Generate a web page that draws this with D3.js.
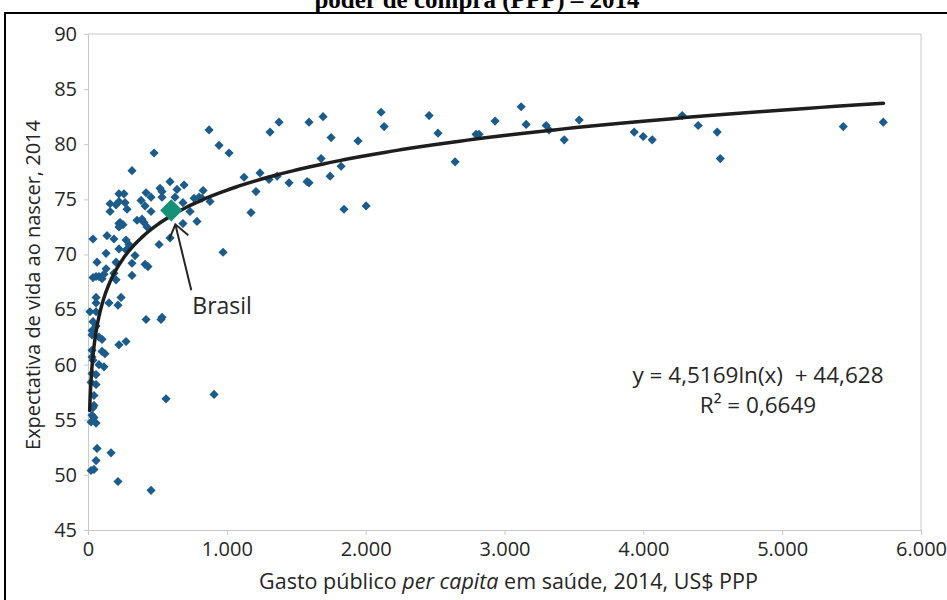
<html>
<head>
<script src='https://d3js.org/d3.v7.min.js'></script>
<style>
  body { margin: 0; background: white; }
  svg text { font-family: 'Open Sans', sans-serif; fill: #262626; }
</style>
</head>
<body>
<svg width=947 height=600></svg>
<script>
// gasto publico per capita em saude (US$ PPP) e expectativa de vida, 2014
var gasto = [36, 65, 58, 79, 101, 36, 58, 58, 14, 58, 36, 58, 29, 29, 79, 101, 29, 101, 122, 29,
  36, 79, 115, 29, 58, 22, 58, 43, 43, 36, 29, 43, 58, 22, 65, 166, 58, 22, 43, 216,
  454, 562, 908, 130, 115, 209, 317, 411, 432, 317, 187, 202, 238, 216, 151, 418, 533, 526, 223, 274,
  476, 317, 591, 519, 533, 692, 641, 418, 454, 223, 259, 533, 627, 684, 382, 159, 202, 223, 267, 411,
  281, 159, 454, 735, 353, 389, 403, 425, 231, 223, 252, 223, 684, 591, 512, 137, 187, 274, 295, 223,
  274, 130, 339, 202, 764, 800, 829, 821, 879, 785, 872, 944, 1016, 1311, 1376, 1124, 1239, 1210, 1174, 1304,
  1362, 1448, 973, 1592, 1693, 1751, 1679, 1823, 1744, 1578, 1592, 1844, 2003, 1945, 2111, 2133, 2457, 2521, 2644, 2795,
  2817, 2932, 3120, 3156, 3300, 3321, 3430, 3538, 3934, 3999, 4064, 4280, 4395, 4532, 4554, 5440, 5728];
var expectativa = [71.4, 69.3, 68.0, 68.0, 67.8, 67.9, 66.1, 65.6, 64.8, 64.8, 63.9, 63.5, 63.1, 62.7, 62.5, 62.3, 61.3, 61.2, 61.0, 60.7,
  60.4, 60.0, 59.8, 59.2, 59.1, 58.4, 58.2, 57.2, 56.3, 56.1, 55.4, 55.2, 54.7, 54.8, 52.4, 52.0, 51.3, 50.4, 50.5, 49.4,
  48.6, 56.9, 57.3, 68.7, 68.2, 69.2, 69.2, 69.1, 68.9, 68.1, 68.3, 67.7, 66.1, 65.4, 65.6, 64.1, 64.3, 64.1, 61.8, 62.1,
  79.2, 77.6, 76.6, 76.0, 75.7, 76.3, 75.9, 75.6, 75.2, 75.5, 75.5, 75.2, 75.2, 74.7, 74.9, 74.6, 74.5, 74.8, 74.7, 74.4,
  74.1, 73.9, 73.9, 73.9, 73.1, 73.2, 72.9, 72.5, 72.9, 72.8, 72.7, 72.5, 72.8, 71.5, 70.9, 71.7, 71.4, 71.3, 70.9, 70.5,
  70.4, 70.1, 69.9, 69.3, 75.1, 75.2, 75.8, 75.1, 74.8, 73.0, 81.3, 79.9, 79.2, 81.1, 82.0, 77.0, 77.4, 75.7, 73.8, 76.8,
  77.1, 76.5, 70.2, 82.0, 82.5, 80.6, 78.7, 78.0, 77.1, 76.6, 76.5, 74.1, 74.4, 80.3, 82.9, 81.6, 82.6, 81.0, 78.4, 80.9,
  80.9, 82.1, 83.4, 81.8, 81.7, 81.3, 80.4, 82.2, 81.1, 80.7, 80.4, 82.6, 81.7, 81.1, 78.7, 81.6, 82.0];

var brasil = {nome: "Brasil", gasto: 600, expectativa: 74.0};
// linha de tendencia logaritmica: y = a ln(x) + b
var tendencia = {a: 4.5169, b: 44.628, xMin: 12, xMax: 5730};
var equacao = "y = 4,5169ln(x)  + 44,628";
var r2 = "R² = 0,6649";

var xTicks = [0, 1000, 2000, 3000, 4000, 5000, 6000];
var yTicks = [45, 50, 55, 60, 65, 70, 75, 80, 85, 90];
var titulo = "poder de compra (PPP) – 2014";
var xTitulo = ["Gasto público ", "per capita", " em saúde, 2014, US$ PPP"];
var yTitulo = "Expectativa de vida ao nascer, 2014";

var svg = d3.select("svg");
var pt = d3.formatLocale({decimal: ",", thousands: ".", grouping: [3], currency: ["US$", ""]});

var x = d3.scaleLinear().domain([0, 6000]).range([88, 921]);
var y = d3.scaleLinear().domain([45, 90]).range([530, 34]);

// titulo (cortado no topo, como no original) e moldura
svg.append("text")
  .attr("x", 477).attr("y", 8)
  .attr("text-anchor", "middle")
  .style("font-family", "'Liberation Serif', serif")
  .style("font-weight", "bold")
  .style("font-size", "25px")
  .style("fill", "black")
  .text(titulo);

svg.append("rect")
  .attr("x", 5).attr("y", 13)
  .attr("width", 980).attr("height", 640)
  .attr("fill", "none")
  .attr("stroke", "black")
  .attr("stroke-width", 2);

// borda da area do grafico
svg.append("line")
  .attr("x1", x(0)).attr("x2", x(6000))
  .attr("y1", y(90)).attr("y2", y(90))
  .attr("stroke", "#c8c8c8");
svg.append("line")
  .attr("x1", x(6000)).attr("x2", x(6000))
  .attr("y1", y(90)).attr("y2", y(45))
  .attr("stroke", "#c8c8c8");

var gy = svg.append("g")
  .attr("transform", "translate(" + x(0) + ",0)")
  .call(d3.axisLeft(y).tickValues(yTicks).tickSize(4).tickPadding(7));
var gx = svg.append("g")
  .attr("transform", "translate(0," + y(45) + ")")
  .call(d3.axisBottom(x).tickValues(xTicks).tickSize(5).tickPadding(7).tickFormat(pt.format(",d")));

[gx, gy].forEach(function(g) {
  g.select(".domain").attr("stroke", "#c8c8c8");
  g.selectAll(".tick line").attr("stroke", "#c8c8c8");
  g.selectAll(".tick text")
    .style("font-family", "'Open Sans', sans-serif")
    .style("font-size", "20px")
    .attr("fill", "#262626");
});

// pontos
var pontos = gasto.map(function(g, i) { return {gasto: g, expectativa: expectativa[i]}; });
var diamante = d3.symbol().type(d3.symbolSquare).size(42);

svg.append("g").selectAll("path")
  .data(pontos)
  .enter()
  .append("path")
  .attr("d", diamante)
  .attr("transform", function(d) {
    return "translate(" + x(d.gasto) + "," + y(d.expectativa) + ") rotate(45)";
  })
  .attr("fill", "#1b5c8c");

// curva de tendencia
var n = 300;
var curva = d3.range(n + 1).map(function(i) {
  var gx = tendencia.xMin * Math.pow(tendencia.xMax / tendencia.xMin, i / n);
  return [gx, tendencia.a * Math.log(gx) + tendencia.b];
});
svg.append("path")
  .datum(curva)
  .attr("d", d3.line().x(function(d) { return x(d[0]); }).y(function(d) { return y(d[1]); }))
  .attr("fill", "none")
  .attr("stroke", "#1e1e1e")
  .attr("stroke-width", 3.5)
  .attr("stroke-linecap", "round");

// Brasil
var bx = x(brasil.gasto), by = y(brasil.expectativa);
svg.append("path")
  .attr("d", d3.symbol().type(d3.symbolSquare).size(250))
  .attr("transform", "translate(" + bx + "," + by + ") rotate(45)")
  .attr("fill", "#15917a");

var tip = [bx + 4, by + 14], tail = [bx + 20, by + 80];
svg.append("path")
  .attr("d", "M" + tail + "L" + tip + "M" + [tip[0] - 6, tip[1] + 15] + "L" + tip + "L" + [tip[0] + 13, tip[1] + 11])
  .attr("fill", "none")
  .attr("stroke", "#262626")
  .attr("stroke-width", 2);

svg.append("text")
  .attr("x", bx + 21).attr("y", by + 104)
  .style("font-size", "23px")
  .text(brasil.nome);

// equacao
svg.append("text")
  .attr("x", 758).attr("y", 383)
  .attr("text-anchor", "middle")
  .style("font-size", "22.5px")
  .attr("xml:space", "preserve")
  .text(equacao);
svg.append("text")
  .attr("x", 758).attr("y", 413)
  .attr("text-anchor", "middle")
  .style("font-size", "22.5px")
  .text(r2);

// titulos dos eixos
var xt = svg.append("text")
  .attr("x", (x(0) + x(6000)) / 2 + 4).attr("y", 589)
  .attr("text-anchor", "middle")
  .style("font-size", "21.5px");
xTitulo.forEach(function(parte, i) {
  xt.append("tspan")
    .style("font-style", i == 1 ? "italic" : "normal")
    .attr("xml:space", "preserve")
    .text(parte);
});

svg.append("text")
  .attr("transform", "translate(40," + ((y(45) + y(90)) / 2 + 3) + ") rotate(-90)")
  .attr("text-anchor", "middle")
  .style("font-size", "20px")
  .text(yTitulo);
</script>
</body>
</html>
